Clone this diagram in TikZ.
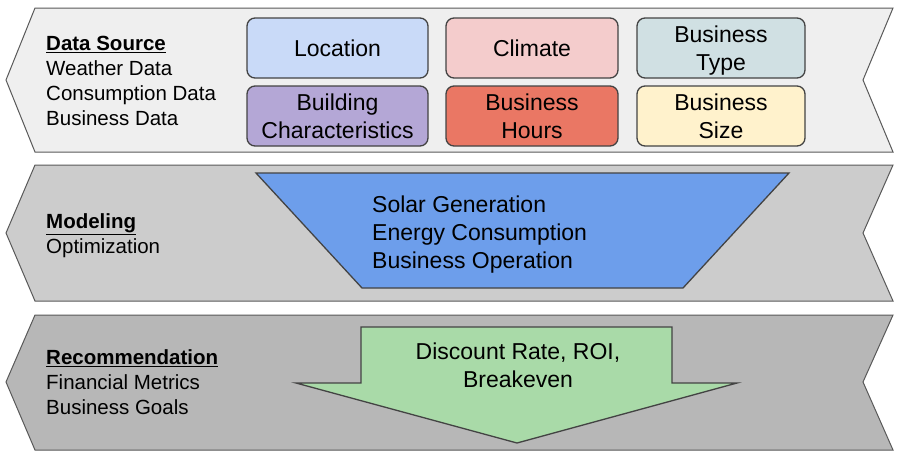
\documentclass[tikz,border=0pt]{standalone}
\usepackage{fontspec}
\setmainfont{Liberation Sans}
\definecolor{bandA}{HTML}{EFEFEF}
\definecolor{bandB}{HTML}{CCCCCC}
\definecolor{bandC}{HTML}{B7B7B7}
\definecolor{edge}{HTML}{595959}
\definecolor{boxedge}{HTML}{434343}
\definecolor{cLoc}{HTML}{C9DAF8}
\definecolor{cClim}{HTML}{F4CCCC}
\definecolor{cType}{HTML}{D0E0E3}
\definecolor{cBuild}{HTML}{B4A7D6}
\definecolor{cHours}{HTML}{EA7764}
\definecolor{cSize}{HTML}{FFF2CC}
\definecolor{cTrap}{HTML}{6D9EEB}
\definecolor{cArrow}{HTML}{A9DAA8}
\begin{document}
\begin{tikzpicture}[x=1pt,y=-1pt,
  band/.style={draw=edge,line width=1pt},
  catbox/.style={draw=boxedge,line width=1.3pt,rounded corners=8pt,inner sep=0pt,
    minimum height=60pt,align=center,text depth=0pt,font=\fontsize{23}{28}\selectfont},
  sidetext/.style={anchor=west,align=left,inner sep=0pt,text depth=0pt,font=\fontsize{20.5}{25}\selectfont},
  bigtext/.style={inner sep=0pt,text depth=0pt,font=\fontsize{23}{28}\selectfont}]
\useasboundingbox (0,0) rectangle (904,466);
% bands
\draw[band,fill=bandA] (35,8) -- (893,8) -- (863,80) -- (893,152) -- (35,152) -- (6,80) -- cycle;
\draw[band,fill=bandB] (35,165) -- (893,165) -- (863,233) -- (893,301) -- (35,301) -- (6,233) -- cycle;
\draw[band,fill=bandC] (35,315) -- (893,315) -- (863,382) -- (893,450) -- (35,450) -- (6,382) -- cycle;
% side texts
\node[sidetext] (ds) at (46,81) {\underline{\textbf{Data Source}}\\Weather Data\\Consumption Data\\Business Data};
\node[sidetext] (mo) at (46,234) {\underline{\textbf{Modeling}}\\Optimization};
\node[sidetext] (re) at (46,382) {\underline{\textbf{Recommendation}}\\Financial Metrics\\Business Goals};
% boxes
\node[catbox,fill=cLoc,minimum width=181pt] (loc) at (337.5,48) {Location};
\node[catbox,fill=cClim,minimum width=172pt] (clim) at (532,48) {Climate};
\node[catbox,fill=cType,minimum width=168pt] (type) at (721,48) {Business\\Type};
\node[catbox,fill=cBuild,minimum width=181pt] (build) at (337.5,116) {Building\\Characteristics};
\node[catbox,fill=cHours,minimum width=172pt] (hours) at (532,116) {Business\\Hours};
\node[catbox,fill=cSize,minimum width=168pt] (size) at (721,116) {Business\\Size};
% trapezoid
\draw[draw=boxedge,line width=1.3pt,fill=cTrap,line join=miter] (256,173) -- (789,173) -- (683,288) -- (362,288) -- cycle;
\node[bigtext,anchor=west,align=left] (model) at (372,232) {Solar Generation\\Energy Consumption\\Business Operation};
% arrow
\draw[draw=boxedge,line width=1.3pt,fill=cArrow,line join=miter] (361,327) -- (672,327) -- (672,383) -- (737,383) -- (517,443) -- (296,383) -- (361,383) -- cycle;
\node[bigtext,align=center] (fin) at (518,365.5) {Discount Rate, ROI,\\Breakeven};
\end{tikzpicture}
\end{document}
